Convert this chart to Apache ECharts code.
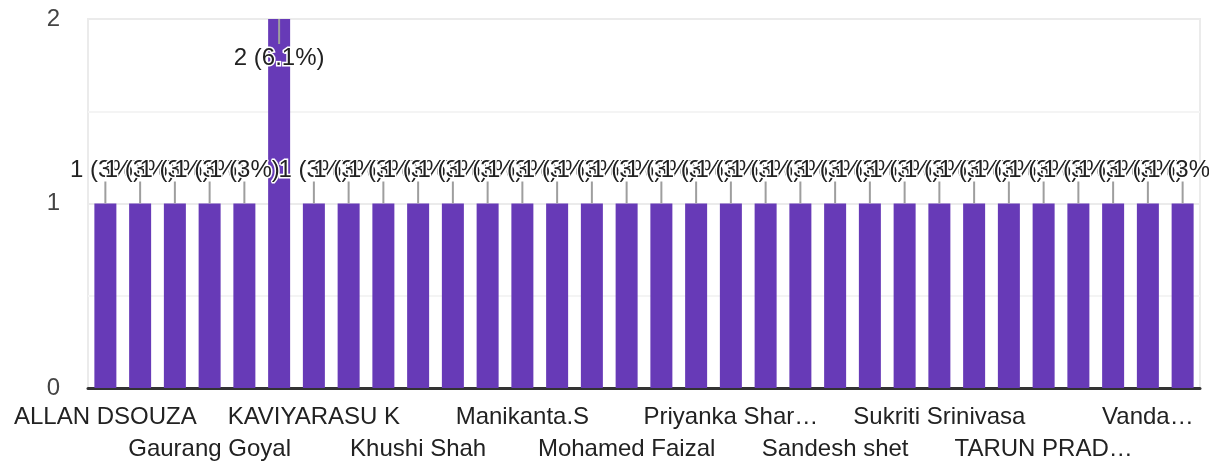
<!DOCTYPE html>
<html>
<head>
<meta charset="utf-8">
<script src="https://cdn.jsdelivr.net/npm/echarts@6/dist/echarts.min.js"></script>
<style>
  html, body { margin: 0; padding: 0; background: #fff; }
  #chart { width: 1209px; height: 466px; }
</style>
</head>
<body>
<div id="chart"></div>
<script>
// Respondent names (sorted) and number of responses for each
const names = [
  'ALLAN DSOUZA', 'Ananya Rao', 'Deepak Kumar', 'Gaurang Goyal', 'Harshita Jain',
  'Jayesh Patil', 'KAVIYARASU K', 'Keerthana R', 'Kevin Joseph', 'Khushi Shah',
  'Kunal Desai', 'Mahesh Babu', 'Manikanta.S', 'Meera Nair', 'Mitali Das',
  'Mohamed Faizal', 'Neha Gupta', 'Pooja Reddy', 'Priyanka Shar\u2026', 'Rahul Singh',
  'Rohan Kapoor', 'Sandesh shet', 'Shreya Iyer', 'Sneha Kulkarni', 'Sukriti Srinivasa',
  'Swati Mishra', 'Tanvi Joshi', 'TARUN PRAD\u2026', 'Tejas Naik', 'Uday Kiran',
  'Vanda\u2026', 'Vikram Shetty'
];
const counts = [
  1, 1, 1, 1, 1,
  2, 1, 1, 1, 1,
  1, 1, 1, 1, 1,
  1, 1, 1, 1, 1,
  1, 1, 1, 1, 1,
  1, 1, 1, 1, 1,
  1, 1
];
const yTicks = [0, 1, 2];

const total = counts.reduce((a, b) => a + b, 0);
const yMax = yTicks[yTicks.length - 1];
const FONT = '"Liberation Sans", Arial, sans-serif';

function pct(v) {
  return parseFloat((v / total * 100).toFixed(1)) + '%';
}

const barData = counts.map(v => {
  const item = { value: v };
  if (v === yMax) {
    item.label = { position: 'insideTop', distance: 27 };
  }
  return item;
});

// every third name is labelled, staggered over two rows
function rowAxis(row) {
  return {
    type: 'category',
    data: names,
    position: 'bottom',
    axisTick: { show: false },
    axisLine: row === 0
      ? { show: true, onZero: false, lineStyle: { color: '#333', width: 3 } }
      : { show: false, onZero: false },
    splitLine: { show: false },
    axisLabel: {
      interval: (index) => index % 6 === row * 3,
      showMinLabel: true,
      showMaxLabel: true,
      hideOverlap: false,
      margin: 13 + row * 32,
      fontFamily: FONT,
      fontSize: 24,
      lineHeight: 32,
      color: '#222'
    }
  };
}

const chart = echarts.init(document.getElementById('chart'), null, { renderer: 'canvas' });
chart.setOption({
  animation: false,
  backgroundColor: '#fff',
  grid: {
    left: 88, right: 9, top: 19, bottom: 78,
    show: true, borderColor: '#ebebeb', borderWidth: 2
  },
  xAxis: [rowAxis(0), rowAxis(1)],
  yAxis: {
    type: 'value',
    min: yTicks[0],
    max: yMax,
    interval: 1,
    axisLine: { show: false },
    axisTick: { show: false },
    axisLabel: {
      margin: 28,
      fontFamily: FONT,
      fontSize: 24,
      color: '#444',
      padding: [6, 0, 0, 0]
    },
    splitLine: { show: true, lineStyle: { color: '#ebebeb', width: 2 } },
    minorTick: { show: false, splitNumber: 2 },
    minorSplitLine: { show: true, lineStyle: { color: '#f4f4f4', width: 2 } }
  },
  series: [
    {
      type: 'bar',
      xAxisIndex: 0,
      data: barData,
      barWidth: 22,
      itemStyle: { color: '#673ab7' },
      label: {
        show: true,
        position: 'top',
        distance: 21,
        fontFamily: FONT,
        fontSize: 24,
        color: '#222',
        textBorderColor: '#fff',
        textBorderWidth: 3,
        formatter: p => p.value + ' (' + pct(p.value) + ')'
      },
      z: 2
    },
    {
      // gray leader lines joining each bar to its value label
      type: 'custom',
      xAxisIndex: 0,
      data: counts.map((v, i) => [i, v]),
      z: 3,
      silent: true,
      renderItem: (params, api) => {
        const v = api.value(1);
        const pt = api.coord([api.value(0), v]);
        const y2 = v === yMax ? pt[1] + 25 : pt[1] - 22;
        return {
          type: 'line',
          shape: { x1: pt[0], y1: pt[1], x2: pt[0], y2: y2 },
          style: { stroke: '#9e9e9e', lineWidth: 2 }
        };
      }
    }
  ]
});
</script>
</body>
</html>
